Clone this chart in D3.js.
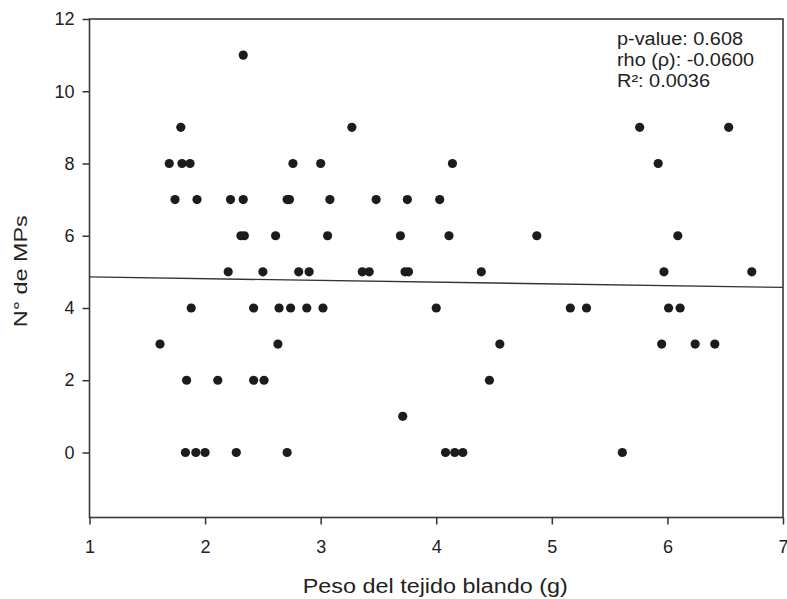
<!DOCTYPE html>
<html>
<head>
<meta charset="utf-8">
<script src="https://cdnjs.cloudflare.com/ajax/libs/d3/7.8.5/d3.min.js"></script>
<style>
  body { margin: 0; background: #fff; }
  text { font-family: "Liberation Sans", Arial, sans-serif; fill: #222; }
</style>
</head>
<body>
<div id="chart1"></div>
<script>
// peso del tejido blando (g) vs n° de MPs, one entry per dot
let peso = [
  2.33,
  1.79, 3.27, 5.76, 6.53,
  1.69, 1.80, 1.87, 2.76, 3.00, 4.14, 5.92,
  1.74, 1.93, 2.22, 2.33, 2.71, 2.73, 3.08, 3.48, 3.75, 4.03,
  2.31, 2.34, 2.61, 3.06, 3.69, 4.11, 4.87, 6.09,
  2.20, 2.50, 2.81, 2.90, 3.36, 3.42, 3.73, 3.76, 4.39, 5.97, 6.73,
  1.88, 2.42, 2.64, 2.74, 2.88, 3.02, 4.00, 5.16, 5.30, 6.01, 6.11,
  1.61, 2.63, 4.55, 5.95, 6.24, 6.41,
  1.84, 2.11, 2.42, 2.51, 4.46,
  3.71,
  1.83, 1.92, 2.00, 2.27, 2.71, 4.08, 4.16, 4.23, 5.61
];
let mps = [
  11,
  9, 9, 9, 9,
  8, 8, 8, 8, 8, 8, 8,
  7, 7, 7, 7, 7, 7, 7, 7, 7, 7,
  6, 6, 6, 6, 6, 6, 6, 6,
  5, 5, 5, 5, 5, 5, 5, 5, 5, 5, 5,
  4, 4, 4, 4, 4, 4, 4, 4, 4, 4, 4,
  3, 3, 3, 3, 3, 3,
  2, 2, 2, 2, 2,
  1,
  0, 0, 0, 0, 0, 0, 0, 0, 0
];

// fitted line ends
let fitX = [1, 7];
let fitY = [4.86, 4.57];

let xTicks = [1, 2, 3, 4, 5, 6, 7];
let yTicks = [0, 2, 4, 6, 8, 10, 12];
let xDomain = [1, 7];
let yDomain = [-1.8, 12];

let statLines = ["p-value: 0.608", "rho (\u03C1): -0.0600", "R\u00B2: 0.0036"];
let xTitle = "Peso del tejido blando (g)";
let yTitle = "N\u00B0 de MPs";

let dim = { width: 787, height: 599, left: 89.5, right: 783, top: 19, bottom: 517.5 };

let svg = d3.select("#chart1").append("svg")
    .attr("width", dim.width)
    .attr("height", dim.height);

svg.append("rect")
    .attr("width", dim.width)
    .attr("height", dim.height)
    .attr("fill", "#fff");

let scaleX = d3.scaleLinear().domain(xDomain).range([dim.left, dim.right]);
let scaleY = d3.scaleLinear().domain(yDomain).range([dim.bottom, dim.top]);

// axes
let axisX = d3.axisBottom(scaleX).tickValues(xTicks).tickFormat(d3.format("d"))
    .tickSize(7).tickSizeOuter(0).tickPadding(16);
let axisY = d3.axisLeft(scaleY).tickValues(yTicks).tickFormat(d3.format("d"))
    .tickSize(7).tickSizeOuter(0).tickPadding(8);

let gx = svg.append("g")
    .attr("transform", `translate(0, ${dim.bottom})`)
    .call(axisX);
let gy = svg.append("g")
    .attr("transform", `translate(${dim.left}, 0)`)
    .call(axisY);

[gx, gy].forEach(g => {
    g.select(".domain").remove();
    g.selectAll("line").attr("stroke", "#333").attr("stroke-width", 1.5);
    g.selectAll("text")
        .style("font-family", '"Liberation Sans", Arial, sans-serif')
        .style("font-size", "18px")
        .attr("fill", "#222");
});

// frame
svg.append("rect")
    .attr("x", dim.left)
    .attr("y", dim.top)
    .attr("width", dim.right - dim.left)
    .attr("height", dim.bottom - dim.top)
    .attr("fill", "none")
    .attr("stroke", "#383838")
    .attr("stroke-width", 1.6);

// regression line
svg.append("line")
    .attr("x1", scaleX(fitX[0]))
    .attr("y1", scaleY(fitY[0]))
    .attr("x2", scaleX(fitX[1]))
    .attr("y2", scaleY(fitY[1]))
    .attr("stroke", "#333")
    .attr("stroke-width", 1.4);

// dots
let data = peso.map((p, i) => ({ peso: p, mps: mps[i] }));

svg.append("g")
    .selectAll("circle")
    .data(data)
    .join("circle")
    .attr("cx", d => scaleX(d.peso))
    .attr("cy", d => scaleY(d.mps))
    .attr("r", 4.6)
    .attr("fill", "#1f1b1b");

// stats box
svg.append("g")
    .selectAll("text")
    .data(statLines)
    .join("text")
    .attr("x", 617)
    .attr("y", (d, i) => 45 + i * 21)
    .attr("font-size", "18px")
    .attr("textLength", (d, i) => [126, 137, 93][i])
    .attr("lengthAdjust", "spacingAndGlyphs")
    .text(d => d);

// titles
svg.append("text")
    .attr("x", (dim.left + dim.right) / 2 - 1)
    .attr("y", 593)
    .attr("text-anchor", "middle")
    .attr("font-size", "20px")
    .attr("textLength", 265)
    .attr("lengthAdjust", "spacingAndGlyphs")
    .text(xTitle);

svg.append("text")
    .attr("transform", `translate(27, ${(dim.top + dim.bottom) / 2 + 3}) rotate(-90)`)
    .attr("text-anchor", "middle")
    .attr("font-size", "19px")
    .attr("textLength", 112)
    .attr("lengthAdjust", "spacingAndGlyphs")
    .text(yTitle);
</script>
</body>
</html>
